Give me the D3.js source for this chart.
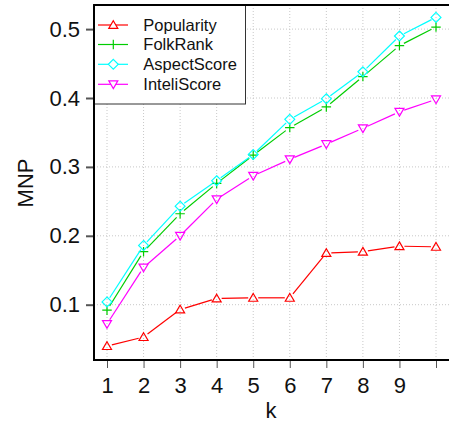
<!DOCTYPE html>
<html><head><meta charset="utf-8">
<script src="https://cdn.jsdelivr.net/npm/d3@7"></script>
<style>body{margin:0;background:#fff}svg{display:block}text{font-family:"Liberation Sans",Arial,sans-serif}</style>
</head><body>
<script>
const ks = [1,2,3,4,5,6,7,8,9,10];
const xTickLabels = ["1","2","3","4","5","6","7","8","9",""];
const yTicks = [0.1,0.2,0.3,0.4,0.5];
const popularity = [0.040,0.053,0.093,0.109,0.110,0.110,0.175,0.177,0.185,0.184];
const folkRank   = [0.092,0.177,0.232,0.276,0.317,0.357,0.387,0.431,0.476,0.503];
const aspectScore= [0.104,0.186,0.243,0.280,0.318,0.369,0.399,0.438,0.490,0.517];
const inteliScore= [0.072,0.154,0.200,0.253,0.287,0.311,0.333,0.356,0.380,0.398];
const seriesNames = ["Popularity","FolkRank","AspectScore","InteliScore"];
const seriesColors = ["#ff0000","#00cd00","#00ffff","#ff00ff"];
const seriesShapes = ["tri","plus","diamond","itri"];

const W=449,H=423;
const pL=94, pT=5, pR=452, pB=360;
const x = d3.scaleLinear().domain([1,10]).range([107,436]);
const y = d3.scaleLinear().domain([0.1,0.5]).range([304.7,29.1]);

const svg = d3.select("body").append("svg").attr("width",W).attr("height",H);

// grid
const g = svg.append("g");
g.selectAll(".vg").data(ks).enter().append("line")
  .attr("x1",d=>x(d)).attr("x2",d=>x(d)).attr("y1",pT).attr("y2",pB)
  .attr("stroke","#c8c8c8").attr("stroke-dasharray","1,2").attr("stroke-width",1);
g.selectAll(".hg").data(yTicks).enter().append("line")
  .attr("y1",d=>y(d)).attr("y2",d=>y(d)).attr("x1",pL).attr("x2",pR)
  .attr("stroke","#c8c8c8").attr("stroke-dasharray","1,2").attr("stroke-width",1);

// axes
const yAxis = d3.axisLeft(y).tickValues(yTicks).tickFormat(d3.format(".1f")).tickSize(7).tickPadding(6);
const ya = svg.append("g").attr("transform",`translate(${pL-1},0)`).call(yAxis);
ya.select(".domain").remove();
ya.selectAll("line").attr("stroke","#555").attr("stroke-width",2);
ya.selectAll("text").attr("font-size",22).attr("fill","#111").attr("font-family","Liberation Sans, Arial, sans-serif");

const xAxis = d3.axisBottom(x).tickValues(ks).tickFormat((d,i)=>xTickLabels[i]).tickSize(7).tickPadding(9);
const xa = svg.append("g").attr("transform",`translate(0,${pB+1})`).call(xAxis);
xa.select(".domain").remove();
xa.selectAll("line").attr("stroke","#555").attr("stroke-width",1);
xa.selectAll("text").attr("font-size",22).attr("fill","#111").attr("font-family","Liberation Sans, Arial, sans-serif");

// frame
svg.append("rect").attr("x",pL).attr("y",pT).attr("width",pR-pL).attr("height",pB-pT)
  .attr("fill","none").attr("stroke","#000").attr("stroke-width",2);

// axis titles
svg.append("text").attr("x",271).attr("y",418).attr("text-anchor","middle").attr("font-size",22).attr("fill","#111").text("k");
svg.append("text").attr("transform","translate(33,183) rotate(-90)").attr("text-anchor","middle").attr("font-size",22).attr("fill","#111").text("MNP");

function shapePath(s){
  const r=4.3;
  if(s==="tri") return `M0,${-r}L${r*1.05},${r*0.8}L${-r*1.05},${r*0.8}Z`;
  if(s==="itri") return `M0,${r}L${r*1.05},${-r*0.8}L${-r*1.05},${-r*0.8}Z`;
  if(s==="diamond") return `M0,${-r*1.15}L${r*1.15},0L0,${r*1.15}L${-r*1.15},0Z`;
  return `M${-r*1.1},0H${r*1.1}M0,${-r*1.1}V${r*1.1}`;
}

const allSeries=[popularity,folkRank,aspectScore,inteliScore];
const gap=5;
allSeries.forEach((vals,si)=>{
  const col=seriesColors[si];
  for(let i=0;i<vals.length-1;i++){
    const x1=x(ks[i]),y1=y(vals[i]),x2=x(ks[i+1]),y2=y(vals[i+1]);
    const dx=x2-x1,dy=y2-y1,L=Math.hypot(dx,dy);
    const ux=dx/L,uy=dy/L;
    svg.append("line").attr("x1",x1+ux*gap).attr("y1",y1+uy*gap).attr("x2",x2-ux*gap).attr("y2",y2-uy*gap)
      .attr("stroke",col).attr("stroke-width",1.2);
  }
  svg.append("g").selectAll("path").data(vals).enter().append("path")
    .attr("transform",(d,i)=>`translate(${x(ks[i])},${y(d)})`)
    .attr("d",shapePath(seriesShapes[si])).attr("fill","none").attr("stroke",col).attr("stroke-width",1.2);
});

// legend
const lg=svg.append("g");
lg.append("rect").attr("x",pL).attr("y",pT).attr("width",151.5).attr("height",99)
  .attr("fill","#fff").attr("stroke","#333").attr("stroke-width",1);
const rowsY=[25,44.5,64.3,84.3];
seriesNames.forEach((nm,i)=>{
  const yy=rowsY[i];
  lg.append("line").attr("x1",98).attr("x2",128).attr("y1",yy).attr("y2",yy).attr("stroke",seriesColors[i]).attr("stroke-width",1.2);
  lg.append("path").attr("transform",`translate(113.3,${yy})`).attr("d",shapePath(seriesShapes[i]))
    .attr("fill","#fff").attr("stroke",seriesColors[i]).attr("stroke-width",1.2);
  lg.append("text").attr("x",143.3).attr("y",yy).attr("dy","0.36em").attr("font-size",16.5).attr("fill","#111").text(nm);
});
svg.append("line").attr("x1",pL).attr("x2",pR).attr("y1",pT).attr("y2",pT).attr("stroke","#000").attr("stroke-width",2);
svg.append("line").attr("x1",pL).attr("x2",pL).attr("y1",pT).attr("y2",pB).attr("stroke","#000").attr("stroke-width",2);
</script>
</body></html>
